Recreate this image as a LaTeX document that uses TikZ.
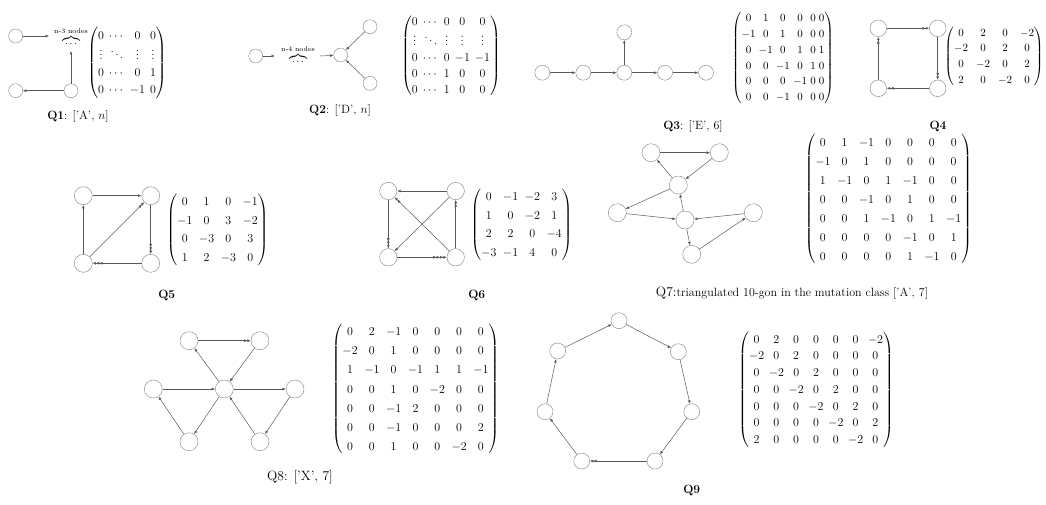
\documentclass[tikz,border=0pt]{standalone}
\usepackage{amsmath}
\usetikzlibrary{arrows.meta}
\newcommand{\matsize}[3]{\fontsize{#1}{#2}\selectfont\setlength{\arraycolsep}{#3}}
\tikzset{
  vtx/.style={circle,draw=black!50,inner sep=0pt,minimum size=#1},
  vtx/.default=16pt,
  >={Latex[length=3.4pt,width=2.8pt]},
  edg/.style={draw=black!65,line width=0.5pt},
  mat/.style={inner sep=0pt},
  qcap/.style={font=\fontsize{12}{14}\selectfont},
}
\begin{document}
\begin{tikzpicture}[x=1pt,y=-1pt]
\useasboundingbox (0,0) rectangle (1046,504);
% Q1
\node[vtx=14pt] (q1a) at (15.7,36) {};
\node[vtx=14pt] (q1b) at (15.7,90.7) {};
\node[vtx=14pt] (q1c) at (71,90.7) {};
\node (q1dots) at (71,37) {$\overbrace{\;\cdots\;}^{\text{n-3 nodes}}$};
\coordinate (q1r) at (49,36);
\coordinate (q1u) at (71,51);
\draw[edg,->] (q1a) -- (q1r);
\draw[edg,->] (q1c) -- (q1u);
\draw[edg,->] (q1c) -- (q1b);
\node[mat,font=\matsize{12}{17}{2.5pt}] (q1m) at (127,63)
  {$\begin{pmatrix}0&\cdots&0&0\\ \vdots&\ddots&\vdots&\vdots\\ 0&\cdots&0&1\\ 0&\cdots&-1&0\end{pmatrix}$};
\node[qcap] (q1cap) at (78,116) {\textbf{Q1}: ['A', $n$]};
% Q2
\node[vtx=14pt] (q2a) at (255.7,56) {};
\node (q2dots) at (298,55) {$\overbrace{\;\cdots\;}^{\text{n-4 nodes}}$};
\node[vtx=14pt] (q2b) at (340.7,55) {};
\node[vtx=14pt] (q2c) at (370,26.7) {};
\node[vtx=14pt] (q2d) at (370,83.3) {};
\coordinate (q2r) at (275,56);
\coordinate (q2l) at (320,56);
\draw[edg,->] (q2a) -- (q2r);
\draw[edg,->] (q2l) -- (q2b);
\draw[edg,->] (q2c) -- (q2b);
\draw[edg,->] (q2d) -- (q2b);
\node[mat,font=\matsize{12}{16}{2.5pt}] (q2m) at (451,56)
  {$\begin{pmatrix}0&\cdots&0&0&0\\ \vdots&\ddots&\vdots&\vdots&\vdots\\ 0&\cdots&0&-1&-1\\ 0&\cdots&1&0&0\\ 0&\cdots&1&0&0\end{pmatrix}$};
\node[qcap] (q2cap) at (340,110) {\textbf{Q2}: ['D', $n$]};
% Q3
\node[vtx=15pt] (q3a) at (542.3,72.7) {};
\node[vtx=15pt] (q3b) at (583.3,72.7) {};
\node[vtx=15pt] (q3c) at (624.3,72.7) {};
\node[vtx=15pt] (q3d) at (665,72.7) {};
\node[vtx=15pt] (q3e) at (706,72.7) {};
\node[vtx=15pt] (q3f) at (624.3,32.3) {};
\draw[edg,->] (q3a) -- (q3b);
\draw[edg,->] (q3b) -- (q3c);
\draw[edg,->] (q3c) -- (q3d);
\draw[edg,->] (q3d) -- (q3e);
\draw[edg,->] (q3c) -- (q3f);
\node[mat,font=\matsize{11}{15.8}{1.6pt}] (q3m) at (783,58)
  {$\begin{pmatrix}0&1&0&0&0&0\\ -1&0&1&0&0&0\\ 0&-1&0&1&0&1\\ 0&0&-1&0&1&0\\ 0&0&0&-1&0&0\\ 0&0&-1&0&0&0\end{pmatrix}$};
\node[qcap] (q3cap) at (693,126.7) {\textbf{Q3}: ['E', 6]};
% Q4
\node[vtx=16.6pt] (q4a) at (878.3,28.3) {};
\node[vtx=16.6pt] (q4b) at (937.7,28.3) {};
\node[vtx=16.6pt] (q4c) at (937.7,88.3) {};
\node[vtx=16.6pt] (q4d) at (878.3,88.3) {};
\draw[edg,->>] (q4a) -- (q4b);
\draw[edg,->>] (q4b) -- (q4c);
\draw[edg,->>] (q4c) -- (q4d);
\draw[edg,->>] (q4d) -- (q4a);
\node[mat,font=\matsize{10.5}{15.7}{4pt}] (q4m) at (994,56.7)
  {$\begin{pmatrix}0&2&0&-2\\ -2&0&2&0\\ 0&-2&0&2\\ 2&0&-2&0\end{pmatrix}$};
\node[qcap] (q4cap) at (938,126.7) {\textbf{Q4}};
% Q5
\node[vtx=18pt] (q5a) at (83.3,195.7) {};
\node[vtx=18pt] (q5b) at (150.7,195.7) {};
\node[vtx=18pt] (q5c) at (150.7,263.3) {};
\node[vtx=18pt] (q5d) at (83.3,263.3) {};
\draw[edg,->] (q5a) -- (q5b);
\draw[edg,->] (q5d) -- (q5a);
\draw[edg,->>] (q5d) -- (q5b);
\draw[edg,->>>] (q5b) -- (q5c);
\draw[edg,->>>] (q5c) -- (q5d);
\node[mat,font=\matsize{12.5}{18.7}{3.3pt}] (q5m) at (217.5,229.7)
  {$\begin{pmatrix}0&1&0&-1\\ -1&0&3&-2\\ 0&-3&0&3\\ 1&2&-3&0\end{pmatrix}$};
\node[qcap] (q5cap) at (166.7,295) {\textbf{Q5}};
% Q6
\node[vtx=17.4pt] (q6a) at (388.3,191) {};
\node[vtx=17.4pt] (q6b) at (455.7,191) {};
\node[vtx=17.4pt] (q6c) at (455.7,257.3) {};
\node[vtx=17.4pt] (q6d) at (388.3,257.3) {};
\draw[edg,->] (q6b) -- (q6a);
\draw[edg,->] (q6b) -- (q6d);
\draw[edg,->>>] (q6a) -- (q6d);
\draw[edg,->>] (q6c) -- (q6a);
\draw[edg,->>>>] (q6d) -- (q6c);
\draw[edg,->>] (q6c) -- (q6b);
\node[mat,font=\matsize{12.5}{18.7}{3.3pt}] (q6m) at (521.5,224.7)
  {$\begin{pmatrix}0&-1&-2&3\\ 1&0&-2&1\\ 2&2&0&-4\\ -3&-1&4&0\end{pmatrix}$};
\node[qcap] (q6cap) at (476.7,295) {\textbf{Q6}};
% Q7
\node[vtx=18pt] (q7a) at (651,152.7) {};
\node[vtx=18pt] (q7b) at (719.3,152.7) {};
\node[vtx=18pt] (q7c) at (678.3,185) {};
\node[vtx=18pt] (q7d) at (617.3,212.7) {};
\node[vtx=18pt] (q7e) at (685,220) {};
\node[vtx=18pt] (q7f) at (753.3,212.7) {};
\node[vtx=18pt] (q7g) at (691.7,254.3) {};
\draw[edg,->] (q7a) -- (q7b);
\draw[edg,->] (q7b) -- (q7c);
\draw[edg,->] (q7c) -- (q7a);
\draw[edg,->] (q7c) -- (q7d);
\draw[edg,->] (q7d) -- (q7e);
\draw[edg,->] (q7e) -- (q7c);
\draw[edg,->] (q7f) -- (q7e);
\draw[edg,->] (q7e) -- (q7g);
\draw[edg,->] (q7g) -- (q7f);
\node[mat,font=\matsize{13}{19}{3.3pt}] (q7m) at (888.3,199.2)
  {$\begin{pmatrix}0&1&-1&0&0&0&0\\ -1&0&1&0&0&0&0\\ 1&-1&0&1&-1&0&0\\ 0&0&-1&0&1&0&0\\ 0&0&1&-1&0&1&-1\\ 0&0&0&0&-1&0&1\\ 0&0&0&0&1&-1&0\end{pmatrix}$};
\node[qcap] (q7cap) at (792,293) {{\fontsize{13.5}{15}\selectfont Q7:}triangulated 10-gon in the mutation class ['A', 7]};
% Q8
\node[vtx=18pt] (q8a) at (189,340.7) {};
\node[vtx=18pt] (q8b) at (260,340.7) {};
\node[vtx=18pt] (q8l) at (153.3,389) {};
\node[vtx=18pt] (q8c) at (224.3,389) {};
\node[vtx=18pt] (q8r) at (295,389) {};
\node[vtx=18pt] (q8d) at (189,441.7) {};
\node[vtx=18pt] (q8e) at (260,441.7) {};
\draw[edg,->>] (q8a) -- (q8b);
\draw[edg,->] (q8b) -- (q8c);
\draw[edg,->] (q8c) -- (q8a);
\draw[edg,->] (q8l) -- (q8c);
\draw[edg,->] (q8c) -- (q8r);
\draw[edg,->] (q8r) -- (q8e);
\draw[edg,->] (q8e) -- (q8c);
\draw[edg,->] (q8c) -- (q8d);
\draw[edg,->] (q8d) -- (q8l);
\node[mat,font=\matsize{13}{19.2}{3.3pt}] (q8m) at (415.5,389.2)
  {$\begin{pmatrix}0&2&-1&0&0&0&0\\ -2&0&1&0&0&0&0\\ 1&-1&0&-1&1&1&-1\\ 0&0&1&0&-2&0&0\\ 0&0&-1&2&0&0&0\\ 0&0&-1&0&0&0&2\\ 0&0&1&0&0&-2&0\end{pmatrix}$};
\node[font=\fontsize{13.5}{15}\selectfont] (q8cap) at (300,477) {Q8: ['X', 7]};
% Q9
\node[vtx=16pt] (q9a) at (619,320.7) {};
\node[vtx=16pt] (q9b) at (678.3,351.7) {};
\node[vtx=16pt] (q9c) at (691.7,411.7) {};
\node[vtx=16pt] (q9d) at (655,461) {};
\node[vtx=16pt] (q9e) at (581.7,461) {};
\node[vtx=16pt] (q9f) at (545,411.7) {};
\node[vtx=16pt] (q9g) at (557.7,351) {};
\draw[edg,->] (q9a) -- (q9b);
\draw[edg,->] (q9b) -- (q9c);
\draw[edg,->] (q9c) -- (q9d);
\draw[edg,->>] (q9d) -- (q9e);
\draw[edg,->] (q9e) -- (q9f);
\draw[edg,->] (q9f) -- (q9g);
\draw[edg,->] (q9g) -- (q9a);
\node[mat,font=\matsize{12}{16.7}{2.3pt}] (q9m) at (816,390)
  {$\begin{pmatrix}0&2&0&0&0&0&-2\\ -2&0&2&0&0&0&0\\ 0&-2&0&2&0&0&0\\ 0&0&-2&0&2&0&0\\ 0&0&0&-2&0&2&0\\ 0&0&0&0&-2&0&2\\ 2&0&0&0&0&-2&0\end{pmatrix}$};
\node[qcap] (q9cap) at (691.7,490) {\textbf{Q9}};
\end{tikzpicture}
\end{document}
